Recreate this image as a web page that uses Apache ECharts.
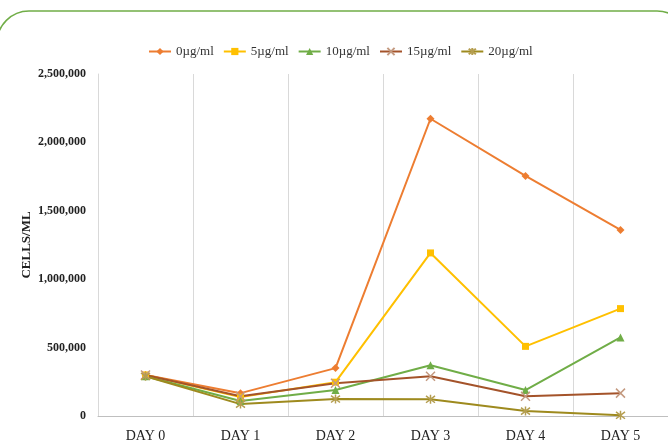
<!DOCTYPE html>
<html><head><meta charset="utf-8">
<script src="https://cdn.jsdelivr.net/npm/echarts@6/dist/echarts.min.js"></script>
<style>html,body{margin:0;padding:0;background:#fff}#c{width:668px;height:443px}</style>
</head><body><div id="c"></div>
<script>
const categories = ['DAY 0','DAY 1','DAY 2','DAY 3','DAY 4','DAY 5'];
const seriesNames = ['0µg/ml','5µg/ml','10µg/ml','15µg/ml','20µg/ml'];
const s0 = [300000, 167000, 350000, 2173000, 1755000, 1360000];
const s5 = [300000, 138000, 247000, 1192000, 509000, 785000];
const s10 = [290000, 109000, 190000, 371000, 190000, 574000];
const s15 = [300000, 145000, 240000, 291000, 145000, 167000];
const s20 = [290000, 87000, 124000, 122000, 36000, 5000];

const colors = ['#ED7D31','#FFC000','#70AD47','#A4532A','#9E8A1E'];
const markerColors = ['#ED7D31','#FFC000','#70AD47','#C49A80','#B59E50'];
const xPath = 'path://M0,0L10,10M10,0L0,10';
const starPath = 'path://M0,0L10,10M10,0L0,10M5,-1.5L5,11.5';
const symbols = ['diamond','rect','triangle', xPath, starPath];
const sizes = [8,7,8,9,9];
const data = [s0,s5,s10,s15,s20];

const series = data.map((d,i)=>({
  name: seriesNames[i], type:'line', data:d,
  symbol: symbols[i], symbolSize: sizes[i],
  lineStyle:{color:colors[i], width:2},
  itemStyle:{color:(i>=3?'none':colors[i]), borderColor:markerColors[i], borderWidth:(i>=3?1.5:0)},
  emphasis:{disabled:true}, animation:false
}));

const chart = echarts.init(document.getElementById('c'), null, {renderer:'canvas'});
chart.setOption({
  backgroundColor:'#fff',
  color: colors,
  graphic:[{type:'rect', shape:{x:-3,y:11,width:692,height:500,r:32}, style:{fill:'none', stroke:'#70AD47', lineWidth:1.5}, silent:true, z:-1}],
  legend:{top:40, left:143, itemWidth:22, itemHeight:9, itemGap:9,
    textStyle:{fontFamily:'Liberation Serif', fontSize:13, color:'#333'},
    data: seriesNames},
  grid:{left:98, right:-3, top:74, bottom:25, containLabel:false},
  xAxis:{type:'category', data:categories, boundaryGap:true,
    axisLine:{lineStyle:{color:'#BFBFBF'}}, axisTick:{show:false},
    splitLine:{show:true, lineStyle:{color:'#D9D9D9'}},
    axisLabel:{fontFamily:'Liberation Serif', fontSize:14, color:'#222', margin:13}},
  yAxis:{type:'value', min:0, max:2500000, interval:500000,
    name:'CELLS/ML', nameLocation:'middle', nameGap:65, nameRotate:90, nameMoveOverlap:false,
    nameTextStyle:{fontFamily:'Liberation Serif', fontSize:13, fontWeight:'bold', color:'#222'},
    axisLine:{show:true, lineStyle:{color:'#D9D9D9'}}, axisTick:{show:false},
    splitLine:{show:false},
    axisLabel:{fontFamily:'Liberation Serif', fontSize:12, fontWeight:'bold', color:'#222', margin:12,
      formatter:v=>v.toLocaleString('en-US')}},
  series: series
});
</script></body></html>
